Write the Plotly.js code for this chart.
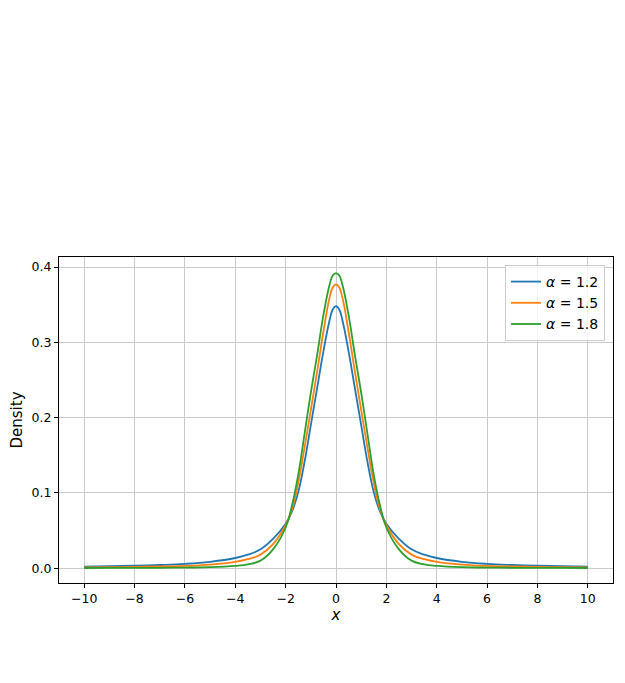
<!DOCTYPE html>
<html>
<head>
<meta charset="utf-8">
<script src="https://cdn.plot.ly/plotly-3.0.1.min.js"></script>
<style>
  html, body { margin: 0; padding: 0; background: #ffffff; }
  #chart { width: 625px; height: 683px; }
</style>
</head>
<body>
<div id="chart"></div>
<script>
// x positions where the curves were read
const xValues = [-10, -9, -8, -7, -6, -5, -4, -3.5, -3, -2.5, -2, -1.75, -1.5, -1.25, -1, -0.75, -0.5, -0.25, -0.125,
                 0, 0.125, 0.25, 0.5, 0.75, 1, 1.25, 1.5, 1.75, 2, 2.5, 3, 3.5, 4, 5, 6, 7, 8, 9, 10];

// density, alpha = 1.2
const density12 = [0.0021, 0.0026, 0.0032, 0.0042, 0.0057, 0.0085, 0.0135, 0.018, 0.025, 0.039, 0.059, 0.075, 0.101, 0.141, 0.190, 0.239, 0.288, 0.330, 0.344,
                   0.348, 0.344, 0.330, 0.288, 0.239, 0.190, 0.141, 0.101, 0.075, 0.059, 0.039, 0.025, 0.018, 0.0135, 0.0085, 0.0057, 0.0042, 0.0032, 0.0026, 0.0021];
// alpha = 1.5
const density15 = [0.0010, 0.0013, 0.0016, 0.0022, 0.0030, 0.0048, 0.0085, 0.012, 0.018, 0.032, 0.057, 0.078, 0.113, 0.160, 0.210, 0.261, 0.314, 0.360, 0.373,
                   0.377, 0.373, 0.360, 0.314, 0.261, 0.210, 0.160, 0.113, 0.078, 0.057, 0.032, 0.018, 0.012, 0.0085, 0.0048, 0.0030, 0.0022, 0.0016, 0.0013, 0.0010];
// alpha = 1.8
const density18 = [0.0002, 0.0003, 0.0004, 0.0005, 0.0008, 0.0013, 0.003, 0.005, 0.010, 0.025, 0.054, 0.083, 0.124, 0.178, 0.233, 0.283, 0.336, 0.377, 0.389,
                   0.392, 0.389, 0.377, 0.336, 0.283, 0.233, 0.178, 0.124, 0.083, 0.054, 0.025, 0.010, 0.005, 0.003, 0.0013, 0.0008, 0.0005, 0.0004, 0.0003, 0.0002];

const seriesNames = ['<i>α</i> = 1.2', '<i>α</i> = 1.5', '<i>α</i> = 1.8'];
const seriesColors = ['#1f77b4', '#ff7f0e', '#2ca02c'];

const xTickVals = [-10, -8, -6, -4, -2, 0, 2, 4, 6, 8, 10];
const xTickText = ['−10', '−8', '−6', '−4', '−2', '0', '2', '4', '6', '8', '10'];
const yTickVals = [0, 0.1, 0.2, 0.3, 0.4];
const yTickText = ['0.0', '0.1', '0.2', '0.3', '0.4'];

const allSeries = [density12, density15, density18];
const traces = allSeries.map((ys, i) => ({
  x: xValues,
  y: ys,
  type: 'scatter',
  mode: 'lines',
  name: seriesNames[i],
  line: { color: seriesColors[i], width: 1.8, shape: 'spline', smoothing: 1.2 }
}));

const font = 'DejaVu Sans, sans-serif';
const layout = {
  width: 625,
  height: 683,
  paper_bgcolor: '#ffffff',
  plot_bgcolor: '#ffffff',
  margin: { l: 59, r: 12, t: 257, b: 100, pad: 0 },
  font: { family: font, size: 12, color: '#000000' },
  showlegend: true,
  legend: {
    x: 0.9856, y: 0.9755, xanchor: 'right', yanchor: 'top',
    bgcolor: 'rgba(255,255,255,0.8)', bordercolor: '#cccccc', borderwidth: 1,
    font: { family: font, size: 14, color: '#000000' },
    tracegroupgap: 0, itemwidth: 30
  },
  xaxis: {
    range: [-11, 11],
    tickvals: xTickVals, ticktext: xTickText,
    ticks: 'outside', ticklen: 4, tickcolor: '#000000', tickwidth: 1,
    showgrid: true, gridcolor: '#cacaca', gridwidth: 1,
    zeroline: false,
    showline: true, linecolor: '#000000', linewidth: 1, mirror: true,
    tickfont: { family: font, size: 12.5, color: '#000000' },
    title: { text: '<i>x</i>', font: { family: font, size: 15, color: '#000000' }, standoff: 2 },
    automargin: false
  },
  yaxis: {
    range: [-0.0197, 0.4133],
    tickvals: yTickVals, ticktext: yTickText,
    ticks: 'outside', ticklen: 4, tickcolor: '#000000', tickwidth: 1,
    showgrid: true, gridcolor: '#cacaca', gridwidth: 1,
    zeroline: false,
    showline: true, linecolor: '#000000', linewidth: 1, mirror: true,
    tickfont: { family: font, size: 12.5, color: '#000000' },
    title: { text: 'Density', font: { family: font, size: 15, color: '#000000' }, standoff: 5 },
    automargin: false
  }
};

Plotly.newPlot('chart', traces, layout, { staticPlot: true, displayModeBar: false });
</script>
</body>
</html>
